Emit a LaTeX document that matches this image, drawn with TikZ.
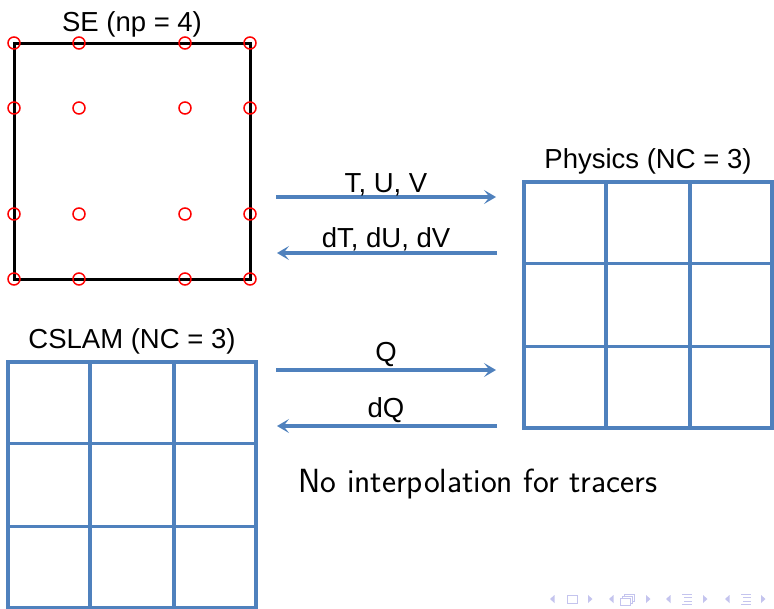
\documentclass[tikz,border=0pt]{standalone}
\usepackage{fontspec}
\setmainfont{Liberation Sans}
\usepackage{xcolor}
\usepackage{tikz}
\usetikzlibrary{arrows.meta,positioning,calc}
\definecolor{gridblue}{RGB}{79,129,189}
\definecolor{navblue}{RGB}{196,196,238}

\begin{document}
\begin{tikzpicture}[x=1pt,y=-1pt,>={Stealth[length=12pt,width=14pt,inset=5.5pt]}]
\tikzstyle{lbl}=[inner sep=0pt,anchor=base,font=\fontsize{27.5}{33}\selectfont]
\tikzstyle{gll}=[circle,draw=red,line width=1.5pt,minimum size=12pt,inner sep=0pt]
\tikzstyle{cellgrid}=[draw=gridblue,line width=3.5pt,minimum width=248pt,minimum height=246pt,inner sep=0pt]
\tikzstyle{flow}=[->,draw=gridblue,line width=3.3pt]
\tikzstyle{nav}=[navblue,line width=0.9pt]
\useasboundingbox (0,0) rectangle (774,608);
% spectral element with GLL points
\node[draw,line width=3pt,minimum width=236pt,minimum height=236pt,inner sep=0pt] (se) at (132,161) {};
\foreach \x in {14,79,185,250}
  \foreach \y in {43,108,214,279}
    \node[gll] (p\x-\y) at (\x,\y) {};
\node[lbl] (setitle) at (132,31) {SE (np = 4)};
% physics and CSLAM grids
\node[cellgrid] (phys) at (648,305) {};
\node[cellgrid] (cslam) at (132,485) {};
\foreach \g in {phys,cslam}
  \foreach \i in {1,2} {
    \draw[draw=gridblue,line width=3.5pt] ($(\g.north west)!\i/3!(\g.north east)$) -- ($(\g.south west)!\i/3!(\g.south east)$);
    \draw[draw=gridblue,line width=3.5pt] ($(\g.north west)!\i/3!(\g.south west)$) -- ($(\g.north east)!\i/3!(\g.south east)$);
  }
\node[lbl] (phystitle) at (648,168) {Physics (NC = 3)};
\node[lbl] (cslamtitle) at (132,348) {CSLAM (NC = 3)};
% exchanges
\coordinate (dynL) at (276,197);
\coordinate (dynR) at (496,197);
\coordinate (tenL) at (277,253);
\coordinate (tenR) at (497,253);
\coordinate (trL) at (276,370);
\coordinate (trR) at (496,370);
\coordinate (dtrL) at (277,426);
\coordinate (dtrR) at (497,426);
\draw[flow] (dynL) -- (dynR);
\draw[flow] (tenR) -- (tenL);
\draw[flow] (trL) -- (trR);
\draw[flow] (dtrR) -- (dtrL);
\node[lbl] (tuv) at (386,192) {T, U, V};
\node[lbl] (dtuv) at (386,247) {dT, dU, dV};
\node[lbl] (q) at (386,361) {Q};
\node[lbl] (dq) at (386,417) {dQ};
\node[inner sep=0pt,anchor=base,font=\sffamily\fontsize{33.5}{40}\selectfont] (note) at (478,492) {No interpolation for tracers};
% navigation symbols
\foreach \x in {550,609,666,725}
  \fill[navblue] (\x,599) -- (\x+4.5,595) -- (\x+4.5,603) -- cycle;
\foreach \x in {588,646,703,761}
  \fill[navblue] (\x+4.5,599) -- (\x,595) -- (\x,603) -- cycle;
\draw[nav] (567,595) rectangle (577,603);
\draw[nav,fill=white] (624,594) rectangle (634,601);
\draw[nav,fill=white] (622,596) rectangle (632,603);
\draw[nav,fill=white] (620,598) rectangle (630,605);
\foreach \c in {687,746} {
  \draw[nav] (\c-5,594) -- (\c+5,594);
  \draw[nav] (\c-3,597.5) -- (\c+5,597.5);
  \draw[nav] (\c-3,601) -- (\c+5,601);
  \draw[nav] (\c-5,604.5) -- (\c+5,604.5);
}
\end{tikzpicture}
\end{document}
